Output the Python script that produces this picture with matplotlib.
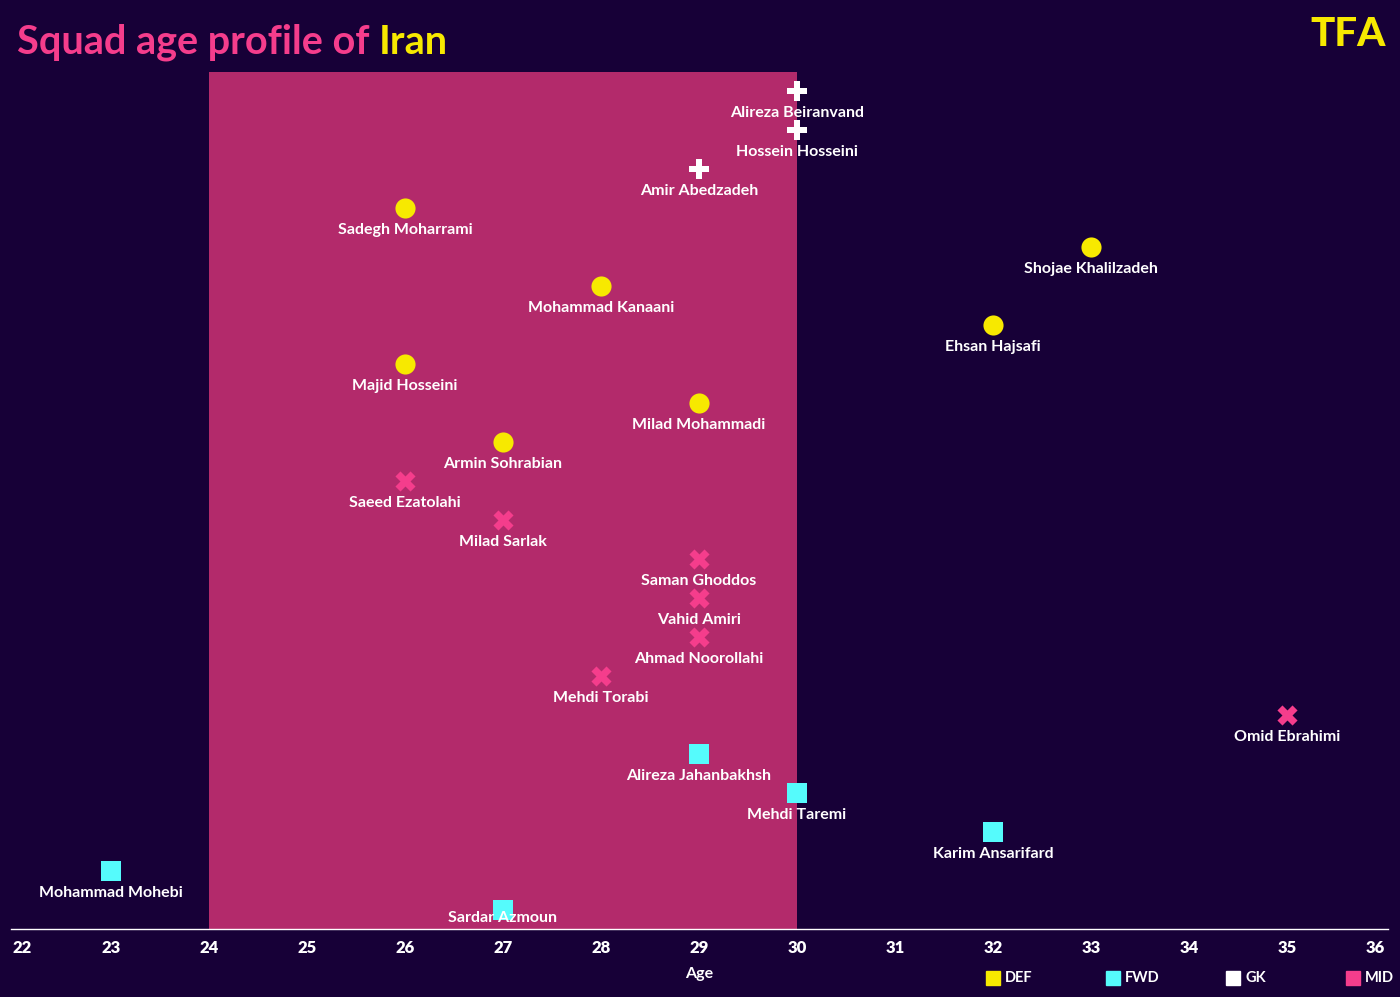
import matplotlib.pyplot as plt
from matplotlib.lines import Line2D

players = ["Alireza Beiranvand", "Hossein Hosseini", "Amir Abedzadeh",
           "Sadegh Moharrami", "Shojae Khalilzadeh", "Mohammad Kanaani",
           "Ehsan Hajsafi", "Majid Hosseini", "Milad Mohammadi",
           "Armin Sohrabian", "Saeed Ezatolahi", "Milad Sarlak",
           "Saman Ghoddos", "Vahid Amiri", "Ahmad Noorollahi",
           "Mehdi Torabi", "Omid Ebrahimi", "Alireza Jahanbakhsh",
           "Mehdi Taremi", "Karim Ansarifard", "Mohammad Mohebi",
           "Sardar Azmoun"]
ages = [30, 30, 29, 26, 33, 28, 32, 26, 29, 27, 26, 27, 29, 29, 29, 28,
        35, 29, 30, 32, 23, 27]
positions = ["GK", "GK", "GK", "DEF", "DEF", "DEF", "DEF", "DEF", "DEF",
             "DEF", "MID", "MID", "MID", "MID", "MID", "MID", "MID",
             "FWD", "FWD", "FWD", "FWD", "FWD"]
legend_keys = ["DEF", "FWD", "GK", "MID"]

BG = "#170037"
colors = {"DEF": "#f7e900", "FWD": "#55fbfc", "GK": "#ffffff", "MID": "#f53d8c"}
markers = {"DEF": "o", "FWD": "s", "GK": "P", "MID": "X"}

plt.rcParams['font.family'] = ["Lato", 'DejaVu Sans']

W, H = 1400, 997
fig = plt.figure(figsize=(W / 100, H / 100), dpi=100, facecolor=BG)
ax = fig.add_axes([11 / W, 68 / H, 1377 / W, 857 / H], facecolor=BG)

ax.axvspan(24, 30, color="#b32a6b", zorder=0, lw=0)

n = len(players)
for i, (name, age, pos) in enumerate(zip(players, ages, positions)):
    y = n - 1 - i
    ax.scatter(age, y, s=210, marker=markers[pos], color=colors[pos],
               zorder=3, linewidths=0)
    off = 0.2 if y == 0 else 0.56
    ax.text(age, y - off, name, color="white", fontsize=11.5, fontweight="bold",
            ha="center", va="center", zorder=4)

ax.set_xlim(21.98, 36.03)
ax.set_ylim(-0.49, n - 0.51)
ax.set_xticks(range(22, 37))
ax.tick_params(axis="x", colors="white", length=0, pad=8, labelsize=12)
labels = ax.get_xticklabels()
for t in labels:
    t.set_fontweight("heavy")
labels[0].set_horizontalalignment("left")
labels[-1].set_horizontalalignment("right")
ax.set_yticks([])
for s in ["top", "left", "right"]:
    ax.spines[s].set_visible(False)
ax.spines["bottom"].set_color("white")
ax.spines["bottom"].set_linewidth(1)
ax.set_xlabel("Age", color="white", fontsize=11.5, fontweight="bold", labelpad=8)

# legend drawn by hand to match spacing
for j, k in enumerate(legend_keys):
    x0 = (993 + 120 * j) / W
    yl = 1 - 978 / H
    fig.add_artist(Line2D([x0], [yl], marker="s", ls="", color=colors[k],
                          markersize=10, transform=fig.transFigure))
    fig.text(x0 + 12 / W, yl, k, color="white", fontsize=10.5,
             fontweight="bold", va="center", ha="left")

t1 = fig.text(17 / W, 1 - 42 / H, "Squad age profile of ", color="#f53d8c",
              fontsize=28.5, fontweight="bold", va="center")
fig.canvas.draw()
bb = t1.get_window_extent()
fig.text(bb.x1 / W, 1 - 42 / H, "Iran", color="#f7e900",
         fontsize=28.5, fontweight="bold", va="center")

fig.text(1386 / W, 1 - 34 / H, "TFA", color="#f7e900", fontsize=29,
         fontweight="black", ha="right", va="center")

fig.savefig("out.png", facecolor=BG)
